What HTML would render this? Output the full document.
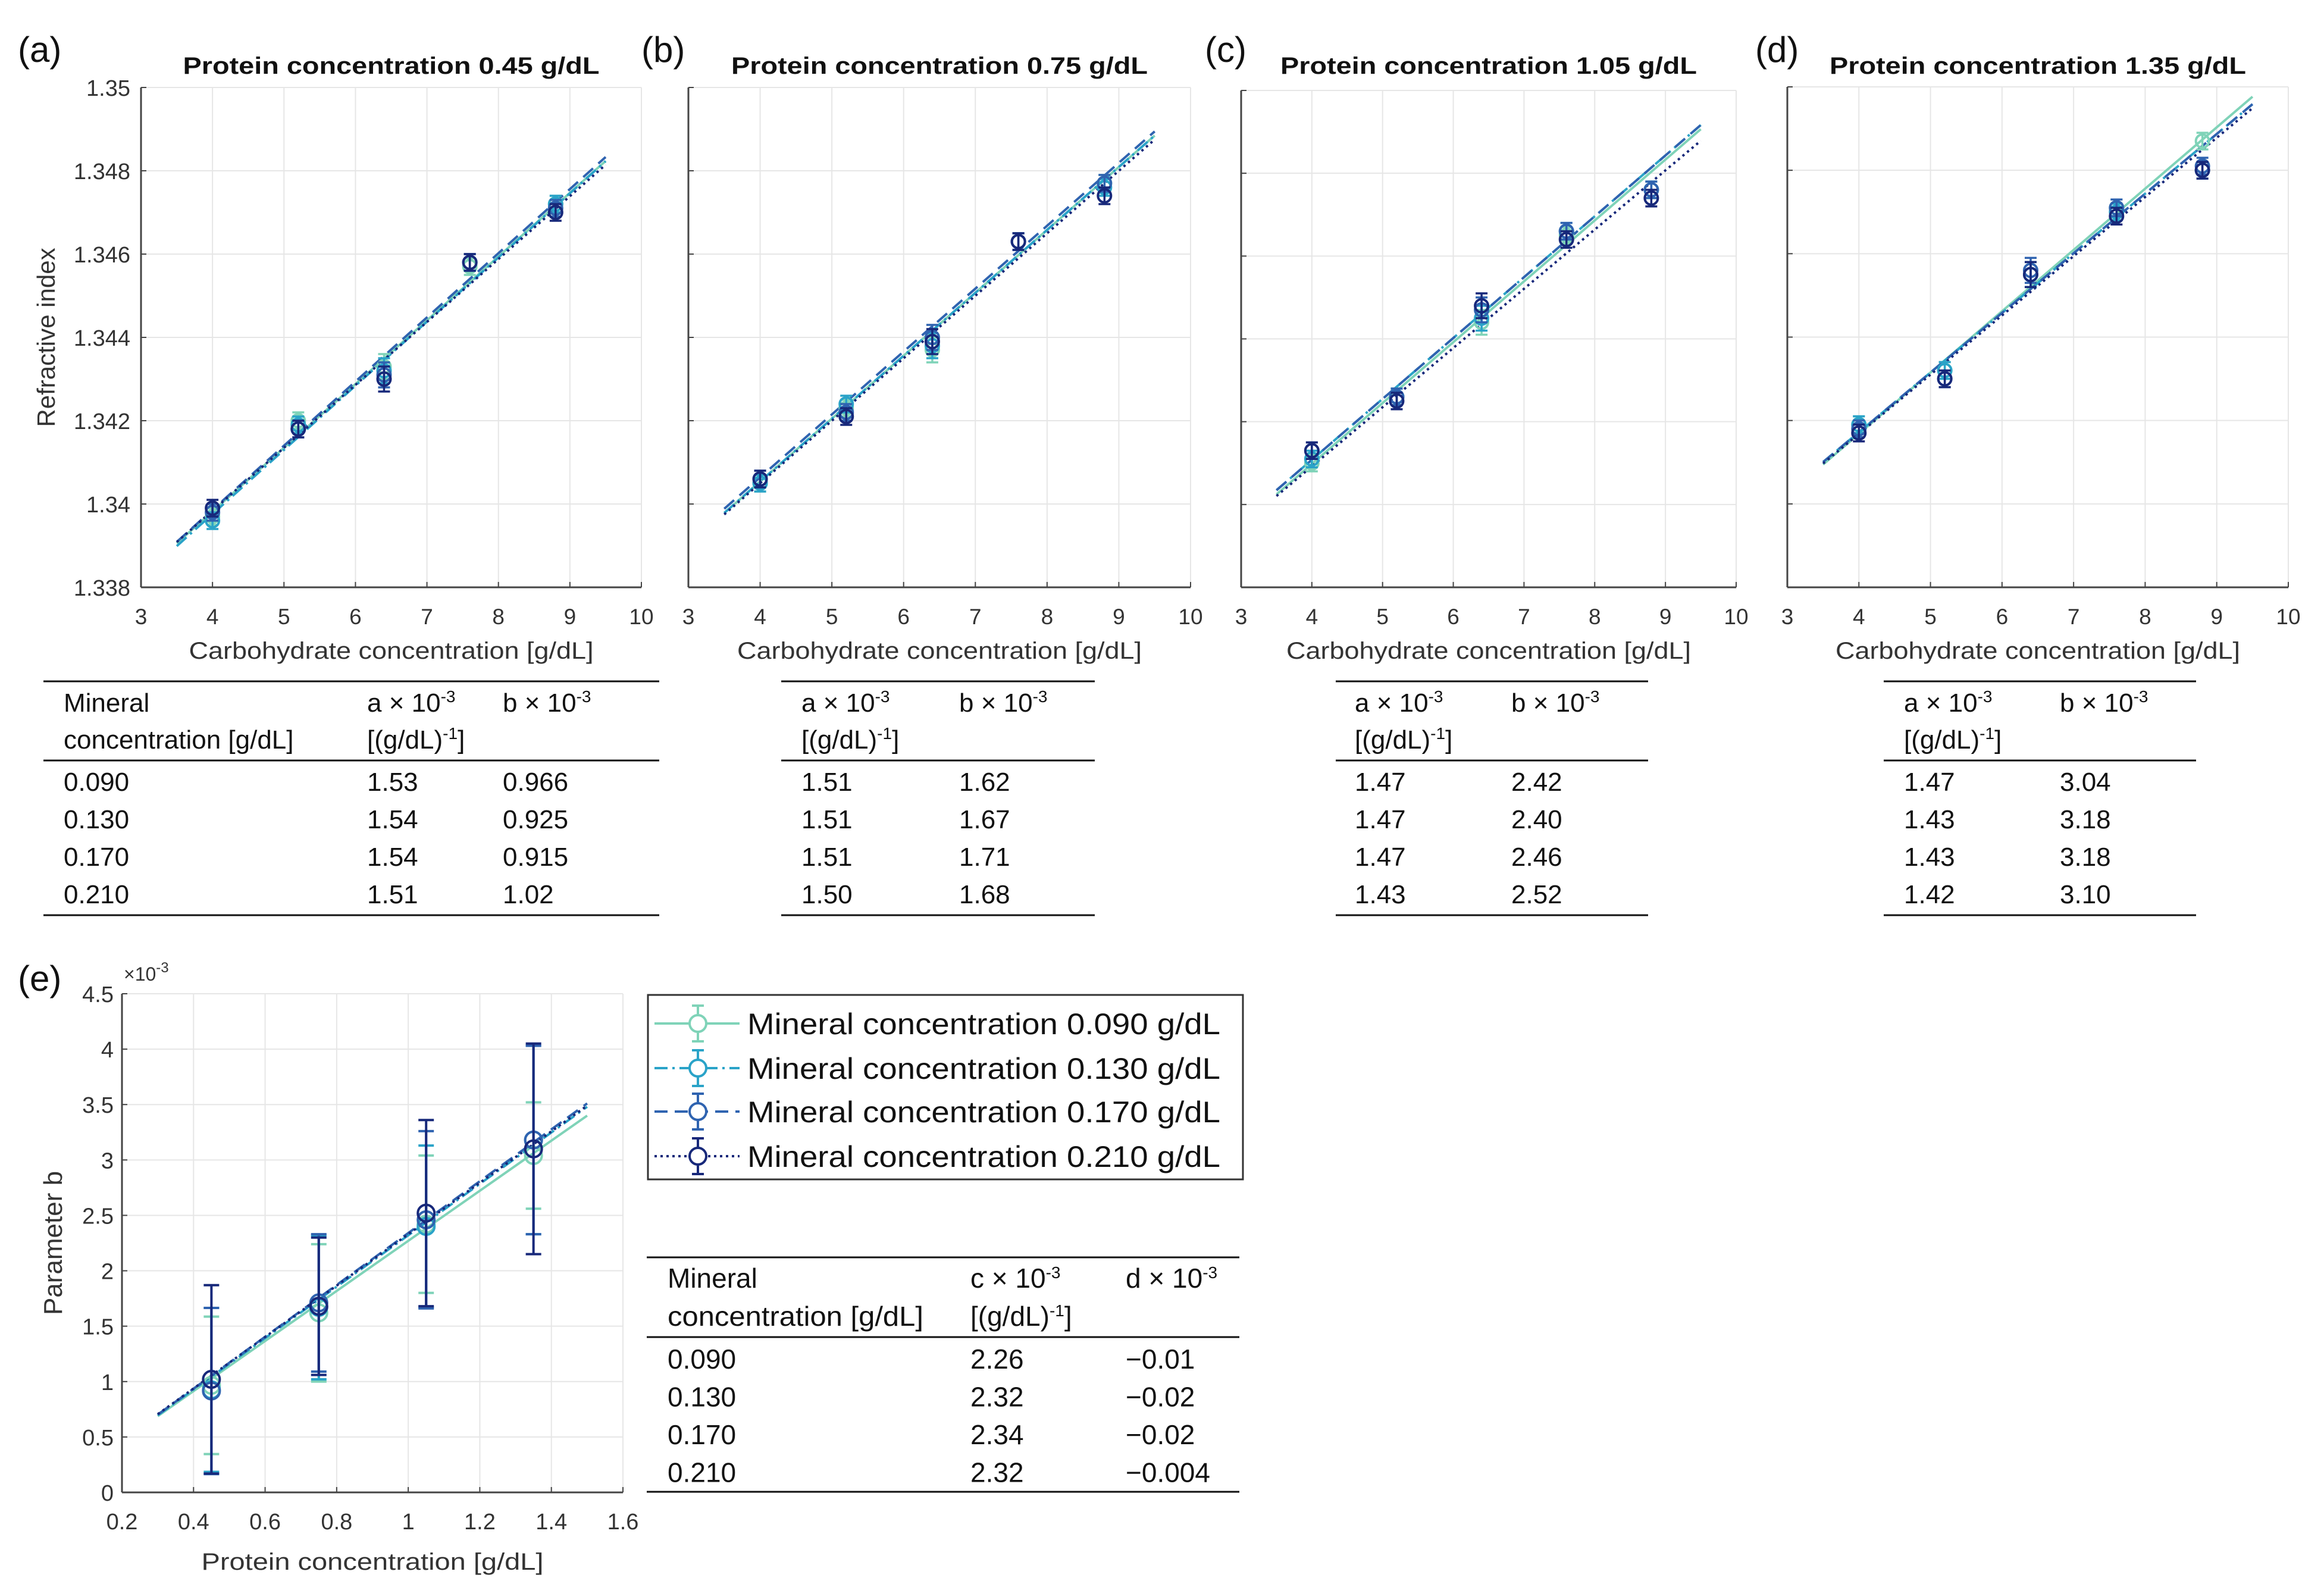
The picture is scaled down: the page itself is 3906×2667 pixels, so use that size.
<!DOCTYPE html>
<html><head><meta charset="utf-8"><style>
html,body{margin:0;padding:0;background:#fff;}
svg{display:block;font-family:"Liberation Sans",sans-serif;}
</style></head><body>
<svg id="fig" width="3906" height="2667" viewBox="0 0 3906 2667" xmlns="http://www.w3.org/2000/svg"></svg>
<script>
// ---------- data ----------
const carbX = [4, 5.2, 6.4, 7.6, 8.8];
const proteinLabels = ["0.45", "0.75", "1.05", "1.35"];
const seriesNames = ["Mineral concentration 0.090 g/dL","Mineral concentration 0.130 g/dL","Mineral concentration 0.170 g/dL","Mineral concentration 0.210 g/dL"];
const riA = [[1.3397,1.3420,1.3433,1.3457,1.3472],[1.3396,1.3419,1.3432,1.3458,1.3472],[1.3398,1.3418,1.3431,1.3458,1.3471],[1.3399,1.3418,1.3430,1.3458,1.3470]];
const riB = [[1.3405,1.3423,1.3437,1.3463,1.3477],[1.3405,1.3424,1.3438,1.3463,1.3476],[1.3406,1.3422,1.3440,1.3463,1.3477],[1.3406,1.3421,1.3439,1.3463,1.3474]];
const riC = [[1.3410,1.3426,1.3444,1.3465,1.3476],[1.3411,1.3426,1.3445,1.3466,1.3476],[1.3413,1.3426,1.3447,1.3466,1.3476],[1.3413,1.3425,1.3448,1.3464,1.3474]];
const riD = [[1.3419,1.3432,1.3455,1.3471,1.3487],[1.3419,1.3432,1.3455,1.3470,1.3480],[1.3418,1.3430,1.3456,1.3471,1.3481],[1.3417,1.3430,1.3455,1.3469,1.3480]];
const riErr = [0.0002,0.0002,0.0003,0.0002,0.0002];
const slopeA = [[0.00153,0.00154,0.00154,0.00151],[0.00151,0.00151,0.00151,0.00150],[0.00147,0.00147,0.00147,0.00143],[0.00147,0.00143,0.00143,0.00142]];
const interA = [[1.3337,1.3336,1.3337,1.3338],[1.3345,1.3345,1.3346,1.3345],[1.3351,1.3352,1.3352,1.3352],[1.3358,1.3360,1.3360,1.3360]];
const tabA = [["1.53","1.54","1.54","1.51"],["1.51","1.51","1.51","1.50"],["1.47","1.47","1.47","1.43"],["1.47","1.43","1.43","1.42"]];
const tabB = [["0.966","0.925","0.915","1.02"],["1.62","1.67","1.71","1.68"],["2.42","2.40","2.46","2.52"],["3.04","3.18","3.18","3.10"]];
const mineralLabels = ["0.090","0.130","0.170","0.210"];
const protX = [0.45, 0.75, 1.05, 1.35];
const paramB = [[0.966,1.62,2.42,3.04],[0.925,1.67,2.40,3.18],[0.915,1.71,2.46,3.18],[1.02,1.68,2.52,3.10]];
const paramBErr = [[0.62,0.62,0.62,0.48],[0.74,0.65,0.73,0.85],[0.75,0.62,0.80,0.85],[0.85,0.62,0.84,0.95]];
const cVals = ["2.26","2.32","2.34","2.32"];
const dVals = ["\u22120.01","\u22120.02","\u22120.02","\u22120.004"];
const cNum = [2.26,2.32,2.34,2.32];
const dNum = [0.01,0.0,0.0,0.01];
const xTicksTop = [3,4,5,6,7,8,9,10];
const yTicksTop = [1.338,1.34,1.342,1.344,1.346,1.348,1.35];
const yTickLabelsTop = ["1.338","1.34","1.342","1.344","1.346","1.348","1.35"];
const xTicksE = [0.2,0.4,0.6,0.8,1,1.2,1.4,1.6];
const xTickLabelsE = ["0.2","0.4","0.6","0.8","1","1.2","1.4","1.6"];
const yTicksE = [0,0.5,1,1.5,2,2.5,3,3.5,4,4.5];
const yTickLabelsE = ["0","0.5","1","1.5","2","2.5","3","3.5","4","4.5"];

const colors = ["#7fd3b8","#2aa3c8","#2f63b0","#17287a"];
const dashes = ["", "22 8 4 8", "22 12", "4 6"];
const NS = "http://www.w3.org/2000/svg";
const svg = document.getElementById("fig");
function el(tag, attrs, parent, text){
  const e = document.createElementNS(NS, tag);
  for (const k in attrs) e.setAttribute(k, attrs[k]);
  if (text !== undefined) e.textContent = text;
  (parent || svg).appendChild(e);
  return e;
}

const panels = [
  {x0:237,x1:1078,y0:147,y1:987,lab:"(a)",lx:30,data:riA,tx0:73,tx1:1108,c0:107,c1:617,c2:845,mineral:true},
  {x0:1157,x1:2001,y0:147,y1:987,lab:"(b)",lx:1078,data:riB,tx0:1313,tx1:1840,c1:1347,c2:1612},
  {x0:2086,x1:2918,y0:152,y1:987,lab:"(c)",lx:2025,data:riC,tx0:2245,tx1:2770,c1:2277,c2:2540},
  {x0:3004,x1:3846,y0:146,y1:987,lab:"(d)",lx:2950,data:riD,tx0:3166,tx1:3691,c1:3200,c2:3462}
];

panels.forEach((P, pi) => {
  const g = el("g", {});
  
  
  const sx = v => P.x0 + (v - 3) / 7 * (P.x1 - P.x0);
  const sy = v => P.y1 - (v - 1.338) / 0.012 * (P.y1 - P.y0);
  xTicksTop.forEach(t => { el("line",{x1:sx(t),x2:sx(t),y1:P.y0,y2:P.y1,stroke:"#e6e6e6","stroke-width":2},g); });
  yTicksTop.forEach(t => { el("line",{x1:P.x0,x2:P.x1,y1:sy(t),y2:sy(t),stroke:"#e6e6e6","stroke-width":2},g); });
  el("line",{x1:P.x0,x2:P.x1,y1:P.y1,y2:P.y1,stroke:"#444","stroke-width":3},g);
  el("line",{x1:P.x0,x2:P.x0,y1:P.y0,y2:P.y1,stroke:"#444","stroke-width":3},g);
  xTicksTop.forEach(t => {
    el("line",{x1:sx(t),x2:sx(t),y1:P.y1,y2:P.y1-9,stroke:"#444","stroke-width":2},g);
    const tl = el("text",{x:sx(t),y:P.y1+62,"font-size":37,fill:"#333","text-anchor":"middle"},g,String(t));
    
    
  });
  yTicksTop.forEach((t,i) => {
    el("line",{x1:P.x0,x2:P.x0+9,y1:sy(t),y2:sy(t),stroke:"#444","stroke-width":2},g);
    if (pi === 0) {
      const tl = el("text",{x:P.x0-18,y:sy(t)+14,"font-size":38,fill:"#333","text-anchor":"end"},g,yTickLabelsTop[i]);
      
      
    }
  });
  const xl = el("text",{x:(P.x0+P.x1)/2,y:P.y1+120,"font-size":40,fill:"#333","text-anchor":"middle",textLength:680,lengthAdjust:"spacingAndGlyphs"},g,"Carbohydrate concentration [g/dL]");
  
  
  if (pi === 0) {
    const yl = el("text",{x:0,y:0,"font-size":42,fill:"#333","text-anchor":"middle",transform:`translate(92,${(P.y0+P.y1)/2}) rotate(-90)`},g,"Refractive index");
    
    
  }
  const ti = el("text",{x:(P.x0+P.x1)/2,y:124,"font-size":40,"font-weight":"bold",fill:"#111","text-anchor":"middle",textLength:700,lengthAdjust:"spacingAndGlyphs"},g,"Protein concentration " + proteinLabels[pi] + " g/dL");
  
  
  const pl = el("text",{x:P.lx,y:104,"font-size":60,fill:"#111"},g,P.lab);
  
  
  for (let s = 0; s < 4; s++) {
    const f = v => interA[pi][s] + slopeA[pi][s] * v;
    const ln = el("line",{x1:sx(3.5),y1:sy(f(3.5)),x2:sx(9.5),y2:sy(f(9.5)),stroke:colors[s],"stroke-width":4,"stroke-dasharray":dashes[s]},g);
    
    
  }
  for (let s = 0; s < 4; s++) {
    P.data[s].forEach((v, i) => {
      const x = sx(carbX[i]), y = sy(v), ea = sy(v + riErr[i]), eb = sy(v - riErr[i]);
      el("line",{x1:x,x2:x,y1:ea,y2:eb,stroke:colors[s],"stroke-width":3.5},g);
      el("line",{x1:x-10,x2:x+10,y1:ea,y2:ea,stroke:colors[s],"stroke-width":3.5},g);
      el("line",{x1:x-10,x2:x+10,y1:eb,y2:eb,stroke:colors[s],"stroke-width":3.5},g);
      const c = el("circle",{cx:x,cy:y,r:11,fill:"none",stroke:colors[s],"stroke-width":4},g);
      
      
    });
  }
  const tg = el("g",{},svg);
  
  
  [1145,1278,1538].forEach(yy => el("line",{x1:P.tx0,x2:P.tx1,y1:yy,y2:yy,stroke:"#111","stroke-width":3},tg));
  const fs = 44;
  if (P.mineral) {
    el("text",{x:P.c0,y:1196,"font-size":fs,fill:"#111"},tg,"Mineral");
    el("text",{x:P.c0,y:1258,"font-size":fs,fill:"#111"},tg,"concentration [g/dL]");
    mineralLabels.forEach((m,i)=> el("text",{x:P.c0,y:1329+i*63,"font-size":fs,fill:"#111"},tg,m));
  }
  const ha = el("text",{x:P.c1,y:1196,"font-size":fs,fill:"#111"},tg,"a \u00d7 10");
  el("tspan",{dy:-16,"font-size":28},ha,"-3");
  const ha2 = el("text",{x:P.c1,y:1258,"font-size":fs,fill:"#111"},tg,"[(g/dL)");
  el("tspan",{dy:-16,"font-size":28},ha2,"-1");
  el("tspan",{dy:16},ha2,"]");
  const hb = el("text",{x:P.c2,y:1196,"font-size":fs,fill:"#111"},tg,"b \u00d7 10");
  el("tspan",{dy:-16,"font-size":28},hb,"-3");
  tabA[pi].forEach((v,i)=> el("text",{x:P.c1,y:1329+i*63,"font-size":fs,fill:"#111"},tg,v));
  tabB[pi].forEach((v,i)=> el("text",{x:P.c2,y:1329+i*63,"font-size":fs,fill:"#111"},tg,v));
});

(function(){
  const E = {x0:205,x1:1047,y0:1670,y1:2508};
  const g = el("g",{});
  
  
  const sx = v => E.x0 + (v - 0.2) / 1.4 * (E.x1 - E.x0);
  const sy = v => E.y1 - v / 4.5 * (E.y1 - E.y0);
  xTicksE.forEach(t => el("line",{x1:sx(t),x2:sx(t),y1:E.y0,y2:E.y1,stroke:"#e6e6e6","stroke-width":2},g));
  yTicksE.forEach(t => el("line",{x1:E.x0,x2:E.x1,y1:sy(t),y2:sy(t),stroke:"#e6e6e6","stroke-width":2},g));
  el("line",{x1:E.x0,x2:E.x1,y1:E.y1,y2:E.y1,stroke:"#444","stroke-width":3},g);
  el("line",{x1:E.x0,x2:E.x0,y1:E.y0,y2:E.y1,stroke:"#444","stroke-width":3},g);
  xTicksE.forEach((t,i) => {
    el("line",{x1:sx(t),x2:sx(t),y1:E.y1,y2:E.y1-9,stroke:"#444","stroke-width":2},g);
    const tl = el("text",{x:sx(t),y:E.y1+62,"font-size":38,fill:"#333","text-anchor":"middle"},g,xTickLabelsE[i]);
    
    
  });
  yTicksE.forEach((t,i) => {
    el("line",{x1:E.x0,x2:E.x0+9,y1:sy(t),y2:sy(t),stroke:"#444","stroke-width":2},g);
    const tl = el("text",{x:E.x0-14,y:sy(t)+14,"font-size":38,fill:"#333","text-anchor":"end"},g,yTickLabelsE[i]);
    
    
  });
  const ex = el("text",{x:E.x0+3,y:E.y0-22,"font-size":32,fill:"#333"},g,"\u00d710");
  el("tspan",{dy:-14,"font-size":24},ex,"-3");
  
  
  const xl = el("text",{x:(E.x0+E.x1)/2,y:2638,"font-size":40,fill:"#333","text-anchor":"middle",textLength:575,lengthAdjust:"spacingAndGlyphs"},g,"Protein concentration [g/dL]");
  
  
  const yl = el("text",{x:0,y:0,"font-size":44,fill:"#333","text-anchor":"middle",transform:`translate(104,${(E.y0+E.y1)/2}) rotate(-90)`},g,"Parameter b");
  
  
  const pl = el("text",{x:30,y:1665,"font-size":60,fill:"#111"},g,"(e)");
  
  
  for (let s=0;s<4;s++){
    const f = v => cNum[s]*v + dNum[s];
    const ln = el("line",{x1:sx(0.3),y1:sy(f(0.3)),x2:sx(1.5),y2:sy(f(1.5)),stroke:colors[s],"stroke-width":4,"stroke-dasharray":dashes[s]},g);
    
    
  }
  for (let s=0;s<4;s++){
    paramB[s].forEach((v,i)=>{
      const x = sx(protX[i]), y = sy(v), ea = sy(v+paramBErr[s][i]), eb = sy(v-paramBErr[s][i]);
      el("line",{x1:x,x2:x,y1:ea,y2:eb,stroke:colors[s],"stroke-width":4},g);
      el("line",{x1:x-13,x2:x+13,y1:ea,y2:ea,stroke:colors[s],"stroke-width":4},g);
      el("line",{x1:x-13,x2:x+13,y1:eb,y2:eb,stroke:colors[s],"stroke-width":4},g);
      const c = el("circle",{cx:x,cy:y,r:14,fill:"none",stroke:colors[s],"stroke-width":4},g);
      
      
    });
  }
  const lg = el("g",{});
  
  
  el("rect",{x:1089,y:1672,width:1000,height:310,fill:"#fff",stroke:"#333","stroke-width":3},lg);
  const ly = [1720,1795,1868,1943];
  for (let s=0;s<4;s++){
    const eg = el("g",{},lg);
    
    
    el("line",{x1:1100,x2:1243,y1:ly[s],y2:ly[s],stroke:colors[s],"stroke-width":4,"stroke-dasharray":dashes[s]},eg);
    el("line",{x1:1173,x2:1173,y1:ly[s]-30,y2:ly[s]+30,stroke:colors[s],"stroke-width":4},eg);
    el("line",{x1:1163,x2:1183,y1:ly[s]-30,y2:ly[s]-30,stroke:colors[s],"stroke-width":4},eg);
    el("line",{x1:1163,x2:1183,y1:ly[s]+30,y2:ly[s]+30,stroke:colors[s],"stroke-width":4},eg);
    el("circle",{cx:1173,cy:ly[s],r:14,fill:"#fff",stroke:colors[s],"stroke-width":4},eg);
    el("text",{x:1256,y:ly[s]+18,"font-size":50,fill:"#111",textLength:795,lengthAdjust:"spacingAndGlyphs"},eg,seriesNames[s]);
  }
  const tg = el("g",{});
  
  
  [2113,2247,2507].forEach(yy => el("line",{x1:1087,x2:2083,y1:yy,y2:yy,stroke:"#111","stroke-width":3},tg));
  const fs = 46;
  el("text",{x:1122,y:2164,"font-size":fs,fill:"#111"},tg,"Mineral");
  el("text",{x:1122,y:2228,"font-size":fs,fill:"#111",textLength:430,lengthAdjust:"spacingAndGlyphs"},tg,"concentration [g/dL]");
  const hc = el("text",{x:1631,y:2164,"font-size":fs,fill:"#111"},tg,"c \u00d7 10");
  el("tspan",{dy:-16,"font-size":28},hc,"-3");
  const hc2 = el("text",{x:1631,y:2228,"font-size":fs,fill:"#111"},tg,"[(g/dL)");
  el("tspan",{dy:-16,"font-size":28},hc2,"-1");
  el("tspan",{dy:16},hc2,"]");
  const hd = el("text",{x:1892,y:2164,"font-size":fs,fill:"#111"},tg,"d \u00d7 10");
  el("tspan",{dy:-16,"font-size":28},hd,"-3");
  mineralLabels.forEach((m,i)=> el("text",{x:1122,y:2300+i*63.5,"font-size":fs,fill:"#111"},tg,m));
  cVals.forEach((m,i)=> el("text",{x:1631,y:2300+i*63.5,"font-size":fs,fill:"#111"},tg,m));
  dVals.forEach((m,i)=> el("text",{x:1892,y:2300+i*63.5,"font-size":fs,fill:"#111"},tg,m));
})();
</script>
</body></html>
